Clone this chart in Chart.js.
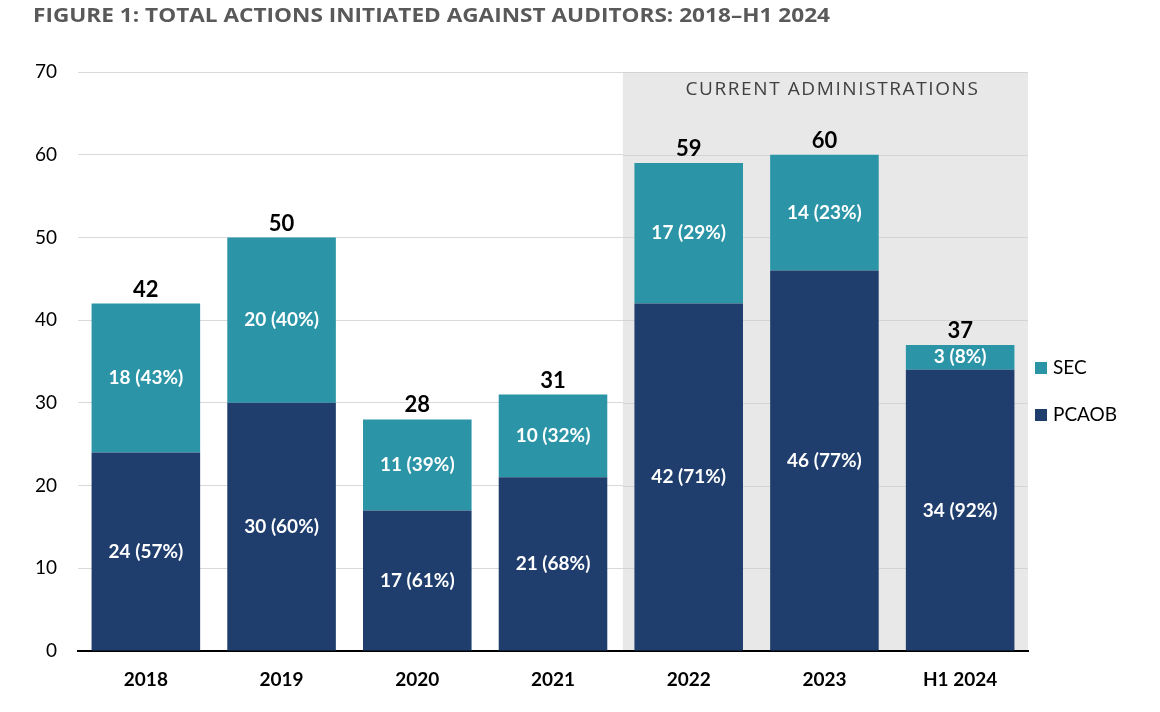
<!DOCTYPE html>
<html>
<head>
<meta charset="utf-8">
<script src="https://cdn.jsdelivr.net/npm/chart.js@4.4.1/dist/chart.umd.min.js"></script>
<style>
  html, body { margin: 0; padding: 0; background: #fff; }
  #wrap { width: 1160px; height: 712px; position: relative; }
</style>
</head>
<body>
<div id="wrap"><canvas id="myChart" width="1160" height="712"></canvas></div>
<script>
// datos
const years = ['2018', '2019', '2020', '2021', '2022', '2023', 'H1 2024'];
const pcaob = [24, 30, 17, 21, 42, 46, 34];
const sec = [18, 20, 11, 10, 17, 14, 3];
const totals = [42, 50, 28, 31, 59, 60, 37];
const pcaobPct = ['57%', '60%', '61%', '68%', '71%', '77%', '92%'];
const secPct = ['43%', '40%', '39%', '32%', '29%', '23%', '8%'];
const yTicks = [0, 10, 20, 30, 40, 50, 60, 70];
const shadedFrom = '2022';
const shadeLabel = 'CURRENT ADMINISTRATIONS';
const titleText = 'FIGURE 1: TOTAL ACTIONS INITIATED AGAINST AUDITORS: 2018\u2013H1 2024';

const navy = '#1f3e6d';
const teal = '#2b95a7';

// sombreado de "current administrations" detras de las barras
const shadePlugin = {
  id: 'shade',
  beforeDatasetsDraw(chart) {
    const { ctx, chartArea, scales: { x, y } } = chart;
    const idx = years.indexOf(shadedFrom);
    const half = (x.getPixelForValue(1) - x.getPixelForValue(0)) / 2;
    const left = x.getPixelForValue(idx) - half + 2;
    const top = y.getPixelForValue(70);
    const bottom = y.getPixelForValue(0);
    ctx.save();
    ctx.fillStyle = '#e8e8e8';
    ctx.fillRect(left, top, chartArea.right - left, bottom - top);
    // redibujar lineas de la cuadricula encima del gris
    ctx.strokeStyle = '#d4d4d4';
    ctx.lineWidth = 1;
    yTicks.slice(1).forEach(v => {
      const py = Math.round(y.getPixelForValue(v)) + 0.5;
      ctx.beginPath();
      ctx.moveTo(left, py);
      ctx.lineTo(chartArea.right, py);
      ctx.stroke();
    });
    // linea base negra otra vez
    ctx.strokeStyle = '#000';
    ctx.lineWidth = 2;
    ctx.beginPath();
    ctx.moveTo(chartArea.left, bottom);
    ctx.lineTo(chartArea.right, bottom);
    ctx.stroke();

    ctx.fillStyle = '#404040';
    ctx.font = '19px "Open Sans"';
    ctx.letterSpacing = '1.6px';
    ctx.textAlign = 'center';
    ctx.textBaseline = 'middle';
    ctx.fillText(shadeLabel, (left + chartArea.right) / 2 + 7, 90);
    ctx.restore();
  }
};

// etiquetas de valores, totales, titulo y leyenda
const labelsPlugin = {
  id: 'labels',
  afterDraw(chart) {
    const { ctx, scales: { x, y } } = chart;
    ctx.save();
    ctx.textAlign = 'center';
    ctx.textBaseline = 'middle';
    years.forEach((yr, i) => {
      const px = x.getPixelForValue(i);
      ctx.fillStyle = '#ffffff';
      ctx.font = 'bold 19px Lato';
      ctx.fillText(pcaob[i] + ' (' + pcaobPct[i] + ')', px, y.getPixelForValue(pcaob[i] / 2));
      ctx.fillText(sec[i] + ' (' + secPct[i] + ')', px, y.getPixelForValue(pcaob[i] + sec[i] / 2));
      ctx.fillStyle = '#000000';
      ctx.font = 'bold 22px Lato';
      ctx.fillText(String(totals[i]), px, y.getPixelForValue(totals[i]) - 14);
    });

    // titulo
    ctx.textAlign = 'left';
    ctx.fillStyle = '#595959';
    ctx.font = 'bold 19px "Open Sans"';
    const w = ctx.measureText(titleText).width;
    ctx.translate(33, 17);
    ctx.scale(797 / w, 1);
    ctx.fillText(titleText, 0, 0);
    ctx.setTransform(1, 0, 0, 1, 0, 0);

    // leyenda
    const items = [['SEC', teal, 368], ['PCAOB', navy, 415]];
    ctx.font = '19px Lato';
    items.forEach(([txt, col, py]) => {
      ctx.fillStyle = col;
      ctx.fillRect(1035, py - 6, 12, 12);
      ctx.fillStyle = '#000';
      ctx.fillText(txt, 1053, py);
    });
    ctx.restore();
  }
};

const ctx = document.getElementById('myChart').getContext('2d');

new Chart(ctx, {
  type: 'bar',
  data: {
    labels: years,
    datasets: [{
      label: 'PCAOB',
      data: pcaob,
      backgroundColor: navy,
      barPercentage: 0.8,
      categoryPercentage: 1
    }, {
      label: 'SEC',
      data: sec,
      backgroundColor: teal,
      barPercentage: 0.8,
      categoryPercentage: 1
    }]
  },
  options: {
    responsive: false,
    animation: false,
    layout: {
      padding: { top: 72, right: 132, bottom: 0, left: 0 }
    },
    plugins: {
      legend: { display: false },
      tooltip: { enabled: false }
    },
    scales: {
      x: {
        stacked: true,
        afterFit: scale => { scale.height = 61; },
        grid: { display: false, drawTicks: false },
        border: { color: '#000', width: 2 },
        ticks: {
          color: '#000',
          padding: 17,
          font: { family: 'Lato', size: 19, weight: 'bold' }
        }
      },
      y: {
        stacked: true,
        min: 0,
        max: 70,
        afterFit: scale => { scale.width = 78; },
        afterBuildTicks: scale => { scale.ticks = yTicks.map(v => ({ value: v })); },
        grid: { color: '#d9d9d9', drawTicks: false },
        border: { display: false },
        ticks: {
          color: '#000',
          padding: 21,
          font: { family: 'Lato', size: 19 }
        }
      }
    }
  },
  plugins: [shadePlugin, labelsPlugin]
});
</script>
</body>
</html>
